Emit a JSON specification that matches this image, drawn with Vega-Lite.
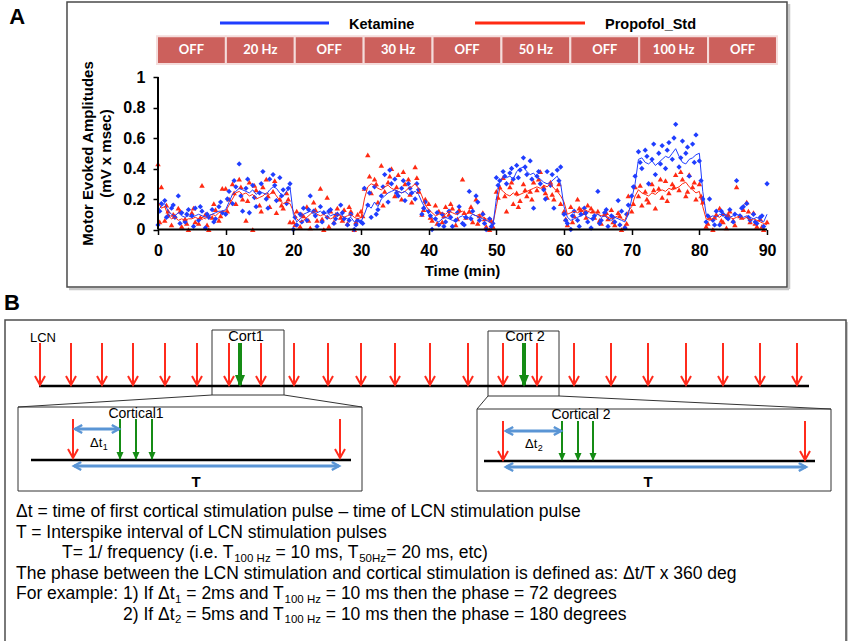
{
"$schema": "https://vega.github.io/schema/vega-lite/v6.json",
"padding": 0,
"spacing": 0,
"background": "white",
"config": {"view": {"stroke": null}, "font": "Liberation Sans"},
"datasets": {
"meas": [
{"t":0,"k":0.03,"p":0.43,"kl":0.13,"pl":0.18},{"t":0.5,"k":0.17,"p":0.28,"kl":0.15,"pl":0.14},{"t":1,"k":0.19,"p":0.06,"kl":0.17,"pl":0.15},{"t":1.5,"k":0.09,"p":0.12,"kl":0.12,"pl":0.09},{"t":2,"k":0.14,"p":0.03,"kl":0.10,"pl":0.07},{"t":2.5,"k":0.08,"p":0.09,"kl":0.09,"pl":0.08},{"t":3,"k":0.22,"p":0.14,"kl":0.11,"pl":0.06},{"t":3.5,"k":0.11,"p":0.02,"kl":0.09,"pl":0.07},{"t":4,"k":0.05,"p":0.07,"kl":0.08,"pl":0.06},{"t":4.5,"k":0.13,"p":0.0,"kl":0.09,"pl":0.07},
{"t":5,"k":0.09,"p":0.11,"kl":0.08,"pl":0.07},{"t":5.5,"k":0.14,"p":0.05,"kl":0.09,"pl":0.08},{"t":6,"k":0.06,"p":0.04,"kl":0.10,"pl":0.07},{"t":6.5,"k":0.12,"p":0.29,"kl":0.09,"pl":0.08},{"t":7,"k":0.01,"p":0.10,"kl":0.08,"pl":0.07},{"t":7.5,"k":0.08,"p":0.0,"kl":0.09,"pl":0.09},{"t":8,"k":0.13,"p":0.08,"kl":0.10,"pl":0.10},{"t":8.5,"k":0.07,"p":0.13,"kl":0.11,"pl":0.09},{"t":9,"k":0.15,"p":0.06,"kl":0.12,"pl":0.11},{"t":9.5,"k":0.11,"p":0.27,"kl":0.12,"pl":0.12},
{"t":10,"k":0.10,"p":0.27,"kl":0.13,"pl":0.12},{"t":10.5,"k":0.25,"p":0.20,"kl":0.18,"pl":0.16},{"t":11,"k":0.17,"p":0.30,"kl":0.23,"pl":0.20},{"t":11.5,"k":0.28,"p":0.17,"kl":0.25,"pl":0.24},{"t":12,"k":0.43,"p":0.33,"kl":0.27,"pl":0.25},{"t":12.5,"k":0.12,"p":0.20,"kl":0.26,"pl":0.23},{"t":13,"k":0.27,"p":0.06,"kl":0.25,"pl":0.24},{"t":13.5,"k":0.11,"p":0.31,"kl":0.24,"pl":0.22},{"t":14,"k":0.29,"p":0.0,"kl":0.26,"pl":0.23},{"t":14.5,"k":0.15,"p":0.26,"kl":0.23,"pl":0.20},
{"t":15,"k":0.24,"p":0.16,"kl":0.25,"pl":0.21},{"t":15.5,"k":0.38,"p":0.28,"kl":0.24,"pl":0.22},{"t":16,"k":0.20,"p":0.33,"kl":0.23,"pl":0.24},{"t":16.5,"k":0.33,"p":0.15,"kl":0.26,"pl":0.23},{"t":17,"k":0.36,"p":0.25,"kl":0.28,"pl":0.25},{"t":17.5,"k":0.19,"p":0.11,"kl":0.27,"pl":0.22},{"t":18,"k":0.34,"p":0.20,"kl":0.24,"pl":0.19},{"t":18.5,"k":0.26,"p":0.14,"kl":0.22,"pl":0.17},{"t":19,"k":0.17,"p":0.24,"kl":0.25,"pl":0.18},{"t":19.5,"k":0.30,"p":0.05,"kl":0.28,"pl":0.17},
{"t":20,"k":0.0,"p":0.05,"kl":0.10,"pl":0.12},{"t":20.5,"k":0.03,"p":0.12,"kl":0.05,"pl":0.07},{"t":21,"k":0.10,"p":0.02,"kl":0.07,"pl":0.05},{"t":21.5,"k":0.14,"p":0.09,"kl":0.10,"pl":0.06},{"t":22,"k":0.06,"p":0.15,"kl":0.11,"pl":0.08},{"t":22.5,"k":0.22,"p":0.01,"kl":0.12,"pl":0.10},{"t":23,"k":0.12,"p":0.18,"kl":0.10,"pl":0.12},{"t":23.5,"k":0.02,"p":0.06,"kl":0.11,"pl":0.10},{"t":24,"k":0.15,"p":0.27,"kl":0.12,"pl":0.09},{"t":24.5,"k":0.11,"p":0.0,"kl":0.10,"pl":0.10},
{"t":25,"k":0.08,"p":0.21,"kl":0.11,"pl":0.08},{"t":25.5,"k":0.13,"p":0.12,"kl":0.09,"pl":0.07},{"t":26,"k":0.04,"p":0.05,"kl":0.10,"pl":0.08},{"t":26.5,"k":0.10,"p":0.14,"kl":0.09,"pl":0.10},{"t":27,"k":0.16,"p":0.08,"kl":0.10,"pl":0.09},{"t":27.5,"k":0.07,"p":0.13,"kl":0.08,"pl":0.08},{"t":28,"k":0.03,"p":0.04,"kl":0.07,"pl":0.09},{"t":28.5,"k":0.10,"p":0.12,"kl":0.08,"pl":0.10},{"t":29,"k":0.0,"p":0.0,"kl":0.05,"pl":0.08},{"t":29.5,"k":0.06,"p":0.10,"kl":0.06,"pl":0.07},
{"t":30,"k":0.05,"p":0.12,"kl":0.05,"pl":0.08},{"t":30.5,"k":0.27,"p":0.27,"kl":0.10,"pl":0.20},{"t":31,"k":0.16,"p":0.49,"kl":0.16,"pl":0.28},{"t":31.5,"k":0.08,"p":0.24,"kl":0.14,"pl":0.30},{"t":32,"k":0.28,"p":0.33,"kl":0.18,"pl":0.29},{"t":32.5,"k":0.13,"p":0.18,"kl":0.15,"pl":0.27},{"t":33,"k":0.22,"p":0.42,"kl":0.20,"pl":0.26},{"t":33.5,"k":0.36,"p":0.25,"kl":0.22,"pl":0.28},{"t":34,"k":0.18,"p":0.31,"kl":0.24,"pl":0.29},{"t":34.5,"k":0.30,"p":0.40,"kl":0.25,"pl":0.27},
{"t":35,"k":0.33,"p":0.22,"kl":0.26,"pl":0.26},{"t":35.5,"k":0.22,"p":0.36,"kl":0.25,"pl":0.25},{"t":36,"k":0.27,"p":0.20,"kl":0.24,"pl":0.24},{"t":36.5,"k":0.19,"p":0.30,"kl":0.25,"pl":0.25},{"t":37,"k":0.30,"p":0.33,"kl":0.23,"pl":0.27},{"t":37.5,"k":0.24,"p":0.18,"kl":0.24,"pl":0.28},{"t":38,"k":0.20,"p":0.41,"kl":0.25,"pl":0.30},{"t":38.5,"k":0.26,"p":0.25,"kl":0.23,"pl":0.27},{"t":39,"k":0.10,"p":0.10,"kl":0.18,"pl":0.22},{"t":39.5,"k":0.18,"p":0.20,"kl":0.14,"pl":0.16},
{"t":40,"k":0.12,"p":0.17,"kl":0.10,"pl":0.13},{"t":40.5,"k":0.0,"p":0.06,"kl":0.08,"pl":0.11},{"t":41,"k":0.07,"p":0.16,"kl":0.06,"pl":0.09},{"t":41.5,"k":0.03,"p":0.12,"kl":0.05,"pl":0.10},{"t":42,"k":0.10,"p":0.05,"kl":0.07,"pl":0.11},{"t":42.5,"k":0.05,"p":0.15,"kl":0.08,"pl":0.10},{"t":43,"k":0.12,"p":0.10,"kl":0.07,"pl":0.12},{"t":43.5,"k":0.02,"p":0.14,"kl":0.06,"pl":0.11},{"t":44,"k":0.06,"p":0.03,"kl":0.05,"pl":0.10},{"t":44.5,"k":0.15,"p":0.13,"kl":0.08,"pl":0.11},
{"t":45,"k":0.04,"p":0.33,"kl":0.09,"pl":0.12},{"t":45.5,"k":0.08,"p":0.08,"kl":0.07,"pl":0.10},{"t":46,"k":0.25,"p":0.12,"kl":0.08,"pl":0.11},{"t":46.5,"k":0.12,"p":0.05,"kl":0.10,"pl":0.10},{"t":47,"k":0.22,"p":0.20,"kl":0.09,"pl":0.09},{"t":47.5,"k":0.06,"p":0.09,"kl":0.08,"pl":0.10},{"t":48,"k":0.10,"p":0.11,"kl":0.07,"pl":0.08},{"t":48.5,"k":0.0,"p":0.02,"kl":0.06,"pl":0.07},{"t":49,"k":0.07,"p":0.0,"kl":0.05,"pl":0.05},{"t":49.5,"k":0.04,"p":0.02,"kl":0.03,"pl":0.04},
{"t":50,"k":0.34,"p":0.25,"kl":0.20,"pl":0.15},{"t":50.5,"k":0.32,"p":0.28,"kl":0.32,"pl":0.27},{"t":51,"k":0.38,"p":0.34,"kl":0.34,"pl":0.25},{"t":51.5,"k":0.30,"p":0.12,"kl":0.34,"pl":0.23},{"t":52,"k":0.37,"p":0.28,"kl":0.35,"pl":0.22},{"t":52.5,"k":0.33,"p":0.17,"kl":0.33,"pl":0.24},{"t":53,"k":0.42,"p":0.24,"kl":0.38,"pl":0.22},{"t":53.5,"k":0.39,"p":0.19,"kl":0.40,"pl":0.23},{"t":54,"k":0.47,"p":0.30,"kl":0.41,"pl":0.24},{"t":54.5,"k":0.36,"p":0.22,"kl":0.38,"pl":0.25},
{"t":55,"k":0.45,"p":0.25,"kl":0.36,"pl":0.26},{"t":55.5,"k":0.14,"p":0.31,"kl":0.37,"pl":0.27},{"t":56,"k":0.35,"p":0.26,"kl":0.34,"pl":0.28},{"t":56.5,"k":0.30,"p":0.38,"kl":0.33,"pl":0.27},{"t":57,"k":0.26,"p":0.28,"kl":0.31,"pl":0.29},{"t":57.5,"k":0.38,"p":0.21,"kl":0.30,"pl":0.28},{"t":58,"k":0.29,"p":0.31,"kl":0.31,"pl":0.30},{"t":58.5,"k":0.14,"p":0.20,"kl":0.33,"pl":0.27},{"t":59,"k":0.39,"p":0.26,"kl":0.35,"pl":0.25},{"t":59.5,"k":0.41,"p":0.17,"kl":0.30,"pl":0.22},
{"t":60,"k":0.10,"p":0.12,"kl":0.15,"pl":0.18},{"t":60.5,"k":0.04,"p":0.03,"kl":0.08,"pl":0.10},{"t":61,"k":0.0,"p":0.15,"kl":0.06,"pl":0.11},{"t":61.5,"k":0.12,"p":0.09,"kl":0.07,"pl":0.12},{"t":62,"k":0.06,"p":0.20,"kl":0.08,"pl":0.11},{"t":62.5,"k":0.10,"p":0.13,"kl":0.09,"pl":0.12},{"t":63,"k":0.14,"p":0.11,"kl":0.10,"pl":0.13},{"t":63.5,"k":0.05,"p":0.16,"kl":0.08,"pl":0.12},{"t":64,"k":0.01,"p":0.14,"kl":0.07,"pl":0.11},{"t":64.5,"k":0.09,"p":0.08,"kl":0.09,"pl":0.12},
{"t":65,"k":0.25,"p":0.12,"kl":0.10,"pl":0.10},{"t":65.5,"k":0.06,"p":0.04,"kl":0.08,"pl":0.09},{"t":66,"k":0.11,"p":0.10,"kl":0.09,"pl":0.10},{"t":66.5,"k":0.02,"p":0.07,"kl":0.07,"pl":0.08},{"t":67,"k":0.09,"p":0.13,"kl":0.06,"pl":0.07},{"t":67.5,"k":0.05,"p":0.03,"kl":0.08,"pl":0.08},{"t":68,"k":0.19,"p":0.11,"kl":0.07,"pl":0.09},{"t":68.5,"k":0.12,"p":0.0,"kl":0.06,"pl":0.07},{"t":69,"k":0.01,"p":0.02,"kl":0.05,"pl":0.06},{"t":69.5,"k":0.16,"p":0.22,"kl":0.10,"pl":0.12},
{"t":70,"k":0.22,"p":0.12,"kl":0.20,"pl":0.15},{"t":70.5,"k":0.35,"p":0.28,"kl":0.30,"pl":0.22},{"t":71,"k":0.51,"p":0.22,"kl":0.46,"pl":0.26},{"t":71.5,"k":0.40,"p":0.16,"kl":0.47,"pl":0.24},{"t":72,"k":0.52,"p":0.25,"kl":0.44,"pl":0.23},{"t":72.5,"k":0.30,"p":0.18,"kl":0.43,"pl":0.22},{"t":73,"k":0.46,"p":0.30,"kl":0.45,"pl":0.24},{"t":73.5,"k":0.36,"p":0.14,"kl":0.42,"pl":0.23},{"t":74,"k":0.50,"p":0.27,"kl":0.44,"pl":0.25},{"t":74.5,"k":0.55,"p":0.21,"kl":0.46,"pl":0.26},
{"t":75,"k":0.40,"p":0.32,"kl":0.48,"pl":0.25},{"t":75.5,"k":0.57,"p":0.24,"kl":0.47,"pl":0.27},{"t":76,"k":0.46,"p":0.30,"kl":0.50,"pl":0.26},{"t":76.5,"k":0.69,"p":0.36,"kl":0.53,"pl":0.27},{"t":77,"k":0.41,"p":0.26,"kl":0.48,"pl":0.28},{"t":77.5,"k":0.58,"p":0.33,"kl":0.44,"pl":0.30},{"t":78,"k":0.50,"p":0.22,"kl":0.43,"pl":0.31},{"t":78.5,"k":0.35,"p":0.36,"kl":0.46,"pl":0.28},{"t":79,"k":0.56,"p":0.28,"kl":0.47,"pl":0.26},{"t":79.5,"k":0.62,"p":0.20,"kl":0.49,"pl":0.24},
{"t":80,"k":0.45,"p":0.30,"kl":0.50,"pl":0.25},{"t":80.5,"k":0.20,"p":0.18,"kl":0.25,"pl":0.15},{"t":81,"k":0.05,"p":0.02,"kl":0.10,"pl":0.07},{"t":81.5,"k":0.20,"p":0.08,"kl":0.08,"pl":0.06},{"t":82,"k":0.06,"p":0.0,"kl":0.09,"pl":0.07},{"t":82.5,"k":0.12,"p":0.10,"kl":0.08,"pl":0.09},{"t":83,"k":0.03,"p":0.14,"kl":0.10,"pl":0.08},{"t":83.5,"k":0.10,"p":0.05,"kl":0.09,"pl":0.10},{"t":84,"k":0.08,"p":0.01,"kl":0.10,"pl":0.09},{"t":84.5,"k":0.13,"p":0.12,"kl":0.08,"pl":0.08},
{"t":85,"k":0.05,"p":0.06,"kl":0.09,"pl":0.07},{"t":85.5,"k":0.32,"p":0.28,"kl":0.10,"pl":0.08},{"t":86,"k":0.09,"p":0.09,"kl":0.09,"pl":0.09},{"t":86.5,"k":0.15,"p":0.13,"kl":0.08,"pl":0.07},{"t":87,"k":0.17,"p":0.18,"kl":0.09,"pl":0.08},{"t":87.5,"k":0.06,"p":0.05,"kl":0.08,"pl":0.06},{"t":88,"k":0.10,"p":0.11,"kl":0.07,"pl":0.07},{"t":88.5,"k":0.04,"p":0.02,"kl":0.08,"pl":0.06},{"t":89,"k":0.08,"p":0.07,"kl":0.06,"pl":0.05},{"t":89.5,"k":0.02,"p":0.0,"kl":0.05,"pl":0.04},
{"t":90,"k":0.30,"p":0.05,"kl":0.10,"pl":0.03}
],
"extra": [
{"t":0.25,"k":0.12,"p":0.05},{"t":1.25,"k":0.08,"p":0.16},{"t":2.25,"k":0.16,"p":0.10},{"t":3.25,"k":0.04,"p":0.12},{"t":4.25,"k":0.10,"p":0.04},{"t":5.25,"k":0.02,"p":0.14},{"t":6.25,"k":0.15,"p":0.08},{"t":7.25,"k":0.10,"p":0.03},{"t":8.25,"k":0.05,"p":0.17},{"t":9.25,"k":0.18,"p":0.09},
{"t":10.25,"k":0.20,"p":0.12},{"t":11.25,"k":0.32,"p":0.24},{"t":12.25,"k":0.22,"p":0.28},{"t":13.25,"k":0.33,"p":0.19},{"t":14.25,"k":0.21,"p":0.29},{"t":15.25,"k":0.30,"p":0.12},{"t":16.25,"k":0.14,"p":0.22},{"t":17.25,"k":0.29,"p":0.32},{"t":18.25,"k":0.22,"p":0.16},{"t":19.25,"k":0.27,"p":0.20},
{"t":20.25,"k":0.08,"p":0.03},{"t":21.25,"k":0.05,"p":0.10},{"t":22.25,"k":0.13,"p":0.06},{"t":23.25,"k":0.09,"p":0.13},{"t":24.25,"k":0.05,"p":0.07},{"t":25.25,"k":0.12,"p":0.02},{"t":26.25,"k":0.07,"p":0.10},{"t":27.25,"k":0.11,"p":0.06},{"t":28.25,"k":0.06,"p":0.15},{"t":29.25,"k":0.03,"p":0.05},
{"t":30.25,"k":0.04,"p":0.09},{"t":31.25,"k":0.24,"p":0.35},{"t":32.25,"k":0.10,"p":0.30},{"t":33.25,"k":0.28,"p":0.16},{"t":34.25,"k":0.39,"p":0.35},{"t":35.25,"k":0.24,"p":0.28},{"t":36.25,"k":0.32,"p":0.38},{"t":37.25,"k":0.27,"p":0.23},{"t":38.25,"k":0.30,"p":0.34},{"t":39.25,"k":0.14,"p":0.13},
{"t":40.25,"k":0.09,"p":0.08},{"t":41.25,"k":0.11,"p":0.04},{"t":42.25,"k":0.02,"p":0.09},{"t":43.25,"k":0.08,"p":0.17},{"t":44.25,"k":0.11,"p":0.07},{"t":45.25,"k":0.03,"p":0.11},{"t":46.25,"k":0.07,"p":0.15},{"t":47.25,"k":0.18,"p":0.04},{"t":48.25,"k":0.04,"p":0.07},{"t":49.25,"k":0.02,"p":0.06},
{"t":50.25,"k":0.29,"p":0.21},{"t":51.25,"k":0.35,"p":0.22},{"t":52.25,"k":0.40,"p":0.31},{"t":53.25,"k":0.34,"p":0.15},{"t":54.25,"k":0.41,"p":0.26},{"t":55.25,"k":0.33,"p":0.20},{"t":56.25,"k":0.38,"p":0.33},{"t":57.25,"k":0.20,"p":0.24},{"t":58.25,"k":0.36,"p":0.23},{"t":59.25,"k":0.32,"p":0.30},
{"t":60.25,"k":0.06,"p":0.07},{"t":61.25,"k":0.09,"p":0.05},{"t":62.25,"k":0.02,"p":0.14},{"t":63.25,"k":0.11,"p":0.08},{"t":64.25,"k":0.07,"p":0.12},{"t":65.25,"k":0.04,"p":0.06},{"t":66.25,"k":0.13,"p":0.11},{"t":67.25,"k":0.08,"p":0.05},{"t":68.25,"k":0.03,"p":0.09},{"t":69.25,"k":0.10,"p":0.04},
{"t":70.25,"k":0.28,"p":0.17},{"t":71.25,"k":0.44,"p":0.29},{"t":72.25,"k":0.48,"p":0.20},{"t":73.25,"k":0.56,"p":0.26},{"t":74.25,"k":0.43,"p":0.33},{"t":75.25,"k":0.52,"p":0.19},{"t":76.25,"k":0.60,"p":0.28},{"t":77.25,"k":0.47,"p":0.38},{"t":78.25,"k":0.54,"p":0.25},{"t":79.25,"k":0.44,"p":0.31},
{"t":80.25,"k":0.32,"p":0.22},{"t":81.25,"k":0.09,"p":0.04},{"t":82.25,"k":0.03,"p":0.08},{"t":83.25,"k":0.12,"p":0.06},{"t":84.25,"k":0.07,"p":0.10},{"t":85.25,"k":0.10,"p":0.03},{"t":86.25,"k":0.14,"p":0.08},{"t":87.25,"k":0.08,"p":0.12},{"t":88.25,"k":0.05,"p":0.04},{"t":89.25,"k":0.09,"p":0.02}
],
"bars": [
{"start":-0.15,"end":10.03,"mid":4.94,"label":"OFF"},{"start":10.03,"end":20.21,"mid":15.12,"label":"20 Hz"},{"start":20.21,"end":30.39,"mid":25.3,"label":"OFF"},{"start":30.39,"end":40.57,"mid":35.48,"label":"30 Hz"},{"start":40.57,"end":50.75,"mid":45.66,"label":"OFF"},{"start":50.75,"end":60.93,"mid":55.84,"label":"50 Hz"},{"start":60.93,"end":71.11,"mid":66.02,"label":"OFF"},{"start":71.11,"end":81.29,"mid":76.2,"label":"100 Hz"},{"start":81.29,"end":91.47,"mid":86.38,"label":"OFF"}
],
"pulses": [
{"x":40,"y":335,"y2":377,"k":"lcn"},{"x":71,"y":335,"y2":377,"k":"lcn"},{"x":102,"y":335,"y2":377,"k":"lcn"},{"x":133,"y":335,"y2":377,"k":"lcn"},{"x":165,"y":335,"y2":377,"k":"lcn"},{"x":197,"y":335,"y2":377,"k":"lcn"},{"x":229,"y":335,"y2":377,"k":"lcn"},{"x":261,"y":335,"y2":377,"k":"lcn"},{"x":294,"y":335,"y2":377,"k":"lcn"},{"x":328,"y":335,"y2":377,"k":"lcn"},{"x":361,"y":335,"y2":377,"k":"lcn"},{"x":395,"y":335,"y2":377,"k":"lcn"},{"x":430,"y":335,"y2":377,"k":"lcn"},{"x":468,"y":335,"y2":377,"k":"lcn"},{"x":503,"y":335,"y2":377,"k":"lcn"},{"x":537,"y":335,"y2":377,"k":"lcn"},{"x":574,"y":335,"y2":377,"k":"lcn"},{"x":611,"y":335,"y2":377,"k":"lcn"},{"x":648,"y":335,"y2":377,"k":"lcn"},{"x":686,"y":335,"y2":377,"k":"lcn"},{"x":723,"y":335,"y2":377,"k":"lcn"},{"x":760,"y":335,"y2":377,"k":"lcn"},{"x":797,"y":335,"y2":377,"k":"lcn"},
{"x":73,"y":411,"y2":450,"k":"lcn"},{"x":340,"y":411,"y2":450,"k":"lcn"},{"x":503,"y":413,"y2":452,"k":"lcn"},{"x":805,"y":413,"y2":452,"k":"lcn"},
{"x":240,"y":335,"y2":377,"k":"cort"},{"x":524,"y":335,"y2":377,"k":"cort"},
{"x":120,"y":411,"y2":451,"k":"cin"},{"x":136,"y":411,"y2":451,"k":"cin"},{"x":152,"y":411,"y2":451,"k":"cin"},{"x":562,"y":413,"y2":452,"k":"cin"},{"x":578,"y":413,"y2":452,"k":"cin"},{"x":593,"y":413,"y2":452,"k":"cin"}
],
"intervals": [
{"x":75,"x2":119,"y":421},{"x":74,"x2":339,"y":458},{"x":506,"x2":561,"y":423},{"x":506,"x2":806,"y":459}
],
"para": [
{"x":16,"y":509,"s":"Δt = time of first cortical stimulation pulse –  time of LCN stimulation pulse"},
{"x":16,"y":529.5,"s":"T = Interspike interval of LCN stimulation pulses"},
{"x":62,"y":550,"s":"T= 1/ frequency (i.e. T"},
{"x":275.5,"y":550,"s":"= 10 ms, T"},
{"x":386.3,"y":550,"s":"= 20 ms, etc)"},
{"x":16,"y":570.5,"s":"The phase between the LCN stimulation and cortical stimulation is defined as: Δt/T x 360 deg"},
{"x":16,"y":591,"s":"For example: 1) If Δt"},
{"x":186.3,"y":591,"s":"= 2ms and T"},
{"x":325.8,"y":591,"s":"= 10 ms then the phase = 72 degrees"},
{"x":123,"y":611.5,"s":"2) If Δt"},
{"x":186.3,"y":611.5,"s":"= 5ms and T"},
{"x":325.8,"y":611.5,"s":"= 10 ms then the phase = 180 degrees"}
],
"parasub": [
{"x":234.2,"y":553.5,"s":"100 Hz"},{"x":359.2,"y":553.5,"s":"50Hz"},
{"x":175,"y":594.5,"s":"1"},{"x":284.5,"y":594.5,"s":"100 Hz"},
{"x":175,"y":615,"s":"2"},{"x":284.5,"y":615,"s":"100 Hz"}
]
},
"vconcat": [
{
"width": 850, "height": 292,
"layer": [
{"data":{"name":"meas"},"mark":{"type":"point","shape":"triangle-up","filled":true,"size":30,"color":"#ff2a12","opacity":1,"strokeWidth":0},
 "encoding":{
  "x":{"field":"t","type":"quantitative","scale":{"domain":[-23.35,102.26],"nice":false,"zero":false},
   "axis":{"orient":"bottom","offset":-62.5,"values":[0,10,20,30,40,50,60,70,80,90],"format":"d","domain":false,"grid":false,"ticks":true,"tickSize":5,"tickWidth":1.5,"tickColor":"black","labels":true,"labelFont":"Liberation Sans","labelFontWeight":"bold","labelFontSize":16,"labelColor":"black","labelPadding":8,"labelFlush":false,"labelOverlap":false,"title":"Time (min)","titleFont":"Liberation Sans","titleFontSize":15,"titleFontWeight":"bold","titleColor":"black","titlePadding":5,"titleX":462,"zindex":2}},
  "y":{"field":"p","type":"quantitative","scale":{"domain":[-0.4098,1.505],"nice":false,"zero":false},
   "axis":{"orient":"left","offset":-158,"values":[0,0.2,0.4,0.6,0.8,1],"format":"~g","domain":false,"grid":false,"ticks":true,"tickSize":5,"tickWidth":1.5,"tickColor":"black","labels":true,"labelFont":"Liberation Sans","labelFontWeight":"bold","labelFontSize":16,"labelColor":"black","labelPadding":8,"labelFlush":false,"labelOverlap":false,"title":["Motor Evoked Amplitudes","(mV x msec)"],"titleFont":"Liberation Sans","titleFontSize":15,"titleFontWeight":"bold","titleColor":"black","titlePadding":9,"titleY":153,"titleLineHeight":18,"zindex":2}}}},
{"data":{"name":"extra"},"mark":{"type":"point","shape":"triangle-up","filled":true,"size":30,"color":"#ff2a12","opacity":1,"strokeWidth":0},
 "encoding":{"x":{"field":"t","type":"quantitative"},"y":{"field":"p","type":"quantitative"}}},
{"data":{"name":"meas"},"mark":{"type":"point","shape":"diamond","filled":true,"size":28,"color":"#1f3dff","opacity":1,"strokeWidth":0},
 "encoding":{"x":{"field":"t","type":"quantitative"},"y":{"field":"k","type":"quantitative"}}},
{"data":{"name":"extra"},"mark":{"type":"point","shape":"diamond","filled":true,"size":28,"color":"#1f3dff","opacity":1,"strokeWidth":0},
 "encoding":{"x":{"field":"t","type":"quantitative"},"y":{"field":"k","type":"quantitative"}}},
{"data":{"name":"meas"},"mark":{"type":"line","color":"#ff2a12","strokeWidth":1},
 "encoding":{"x":{"field":"t","type":"quantitative"},"y":{"field":"pl","type":"quantitative"}}},
{"data":{"name":"meas"},"mark":{"type":"line","color":"#1f3dff","strokeWidth":1},
 "encoding":{"x":{"field":"t","type":"quantitative"},"y":{"field":"kl","type":"quantitative"}}},
{"data":{"values":[{"x":93.25,"x2":93.25,"y":1.479,"y2":-0.39},{"x":-13.15,"x2":93.25,"y":-0.39,"y2":-0.39}]},"mark":{"type":"rule","color":"#c8c8c8","strokeWidth":2.5},
 "encoding":{"x":{"field":"x","type":"quantitative"},"x2":{"field":"x2"},"y":{"field":"y","type":"quantitative"},"y2":{"field":"y2"}}},
{"data":{"values":[{"x":-13.45,"x2":92.95,"y":1.492,"y2":-0.377}]},"mark":{"type":"rect","fill":"white","fillOpacity":0,"stroke":"#4a4a4a","strokeWidth":1.5},
 "encoding":{"x":{"field":"x","type":"quantitative"},"x2":{"field":"x2"},"y":{"field":"y","type":"quantitative"},"y2":{"field":"y2"}}},
{"data":{"values":[{"x":0,"x2":90,"y":0,"y2":0},{"x":0,"x2":0,"y":0,"y2":1}]},"mark":{"type":"rule","color":"black","strokeWidth":2},
 "encoding":{"x":{"field":"x","type":"quantitative"},"x2":{"field":"x2"},"y":{"field":"y","type":"quantitative"},"y2":{"field":"y2"}}},
{"data":{"name":"bars"},"mark":{"type":"rect","fill":"#cc605c","stroke":"#f4dcdb","strokeWidth":2},
 "encoding":{"x":{"field":"start","type":"quantitative"},"x2":{"field":"end"},"y":{"datum":1.268,"type":"quantitative"},"y2":{"datum":1.085}}},
{"data":{"name":"bars"},"mark":{"type":"text","font":"Lato","fontWeight":"bold","fontSize":13,"color":"white","align":"center","baseline":"middle"},
 "encoding":{"x":{"field":"mid","type":"quantitative"},"y":{"datum":1.177,"type":"quantitative"},"text":{"field":"label"}}},
{"data":{"values":[{"s":"Ketamine","x":9.16,"x2":25.27},{"s":"Propofol_Std","x":46.85,"x2":63.1}]},"mark":{"type":"rule","strokeWidth":3},
 "encoding":{"x":{"field":"x","type":"quantitative"},"x2":{"field":"x2"},"y":{"datum":1.354,"type":"quantitative"},
  "color":{"field":"s","type":"nominal","scale":{"domain":["Ketamine","Propofol_Std"],"range":["#1f3dff","#ff2a12"]},"legend":null}}},
{"data":{"values":[{"s":"Ketamine","lx":28.23},{"s":"Propofol_Std","lx":66.06}]},"mark":{"type":"text","font":"Liberation Sans","fontWeight":"bold","fontSize":14.5,"color":"black","align":"left","baseline":"middle"},
 "encoding":{"x":{"field":"lx","type":"quantitative"},"y":{"datum":1.344,"type":"quantitative"},"text":{"field":"s"}}},
{"data":{"values":[{"s":"A","x":-20.8,"y":1.393}]},"mark":{"type":"text","font":"Liberation Sans","fontWeight":"bold","fontSize":22,"color":"black","align":"center","baseline":"middle"},
 "encoding":{"x":{"field":"x","type":"quantitative"},"y":{"field":"y","type":"quantitative"},"text":{"field":"s"}}}
]
},
{
"width": 850, "height": 349,
"encoding": {
 "x":{"field":"x","type":"quantitative","scale":{"domain":[0,850],"nice":false,"zero":false},"axis":null},
 "y":{"field":"y","type":"quantitative","scale":{"domain":[292,641],"nice":false,"zero":false,"reverse":true},"axis":null}
},
"layer": [
{"data":{"values":[{"x":7,"x2":848,"y":314,"y2":637}]},"mark":{"type":"rect","fill":"#c8c8c8"},"encoding":{"x2":{"field":"x2"},"y2":{"field":"y2"}}},
{"data":{"values":[{"x":5,"x2":846,"y":312,"y2":635}]},"mark":{"type":"rect","fill":"white","stroke":"#4d4d4d","strokeWidth":1.5},"encoding":{"x2":{"field":"x2"},"y2":{"field":"y2"}}},
{"data":{"values":[{"x":212,"x2":284,"y":322,"y2":387},{"x":488,"x2":559,"y":323,"y2":388},{"x":18,"x2":362,"y":399,"y2":483},{"x":477,"x2":831,"y":401,"y2":483}]},"mark":{"type":"rect","fill":"white","fillOpacity":0,"stroke":"#333333","strokeWidth":1},"encoding":{"x2":{"field":"x2"},"y2":{"field":"y2"}}},
{"data":{"values":[{"x":212,"y":387,"x2":18,"y2":399},{"x":284,"y":387,"x2":362,"y2":399},{"x":488,"y":388,"x2":477,"y2":401},{"x":559,"y":388,"x2":831,"y2":401}]},"mark":{"type":"rule","color":"#333333","strokeWidth":1},"encoding":{"x2":{"field":"x2"},"y2":{"field":"y2"}}},
{"data":{"values":[{"x":39,"x2":809,"y":378},{"x":31,"x2":351,"y":452},{"x":484,"x2":815,"y":453}]},"mark":{"type":"rule","color":"black","strokeWidth":2.5},"encoding":{"x2":{"field":"x2"}}},
{"data":{"name":"pulses"},"transform":[{"filter":"datum.k == 'lcn'"}],"mark":{"type":"rule","color":"#ff2b1c","strokeWidth":2},"encoding":{"y2":{"field":"y2"}}},
{"data":{"name":"pulses"},"transform":[{"filter":"datum.k == 'lcn'"}],"mark":{"type":"point","shape":"M-1,-1.8L0,0L1,-1.8","filled":false,"size":100,"stroke":"#ff2b1c","strokeWidth":2,"opacity":1},
 "encoding":{"y":{"field":"y2","type":"quantitative","scale":{"domain":[292,641],"nice":false,"zero":false,"reverse":true},"axis":null}}},
{"data":{"name":"pulses"},"transform":[{"filter":"datum.k == 'cort'"}],"mark":{"type":"rule","color":"#158c15","strokeWidth":4},"encoding":{"y2":{"field":"y2"}}},
{"data":{"name":"pulses"},"transform":[{"filter":"datum.k == 'cort'"}],"mark":{"type":"point","shape":"M-1,-2L0,0.4L1,-2Z","filled":true,"size":100,"color":"#158c15","strokeWidth":0,"opacity":1},
 "encoding":{"y":{"field":"y2","type":"quantitative","scale":{"domain":[292,641],"nice":false,"zero":false,"reverse":true},"axis":null}}},
{"data":{"name":"pulses"},"transform":[{"filter":"datum.k == 'cin'"}],"mark":{"type":"rule","color":"#158c15","strokeWidth":2},"encoding":{"y2":{"field":"y2"}}},
{"data":{"name":"pulses"},"transform":[{"filter":"datum.k == 'cin'"}],"mark":{"type":"point","shape":"M-1,-2L0,0.3L1,-2Z","filled":true,"size":49,"color":"#158c15","strokeWidth":0,"opacity":1},
 "encoding":{"y":{"field":"y2","type":"quantitative","scale":{"domain":[292,641],"nice":false,"zero":false,"reverse":true},"axis":null}}},
{"data":{"name":"intervals"},"mark":{"type":"rule","color":"#5a95d5","strokeWidth":3},"encoding":{"x2":{"field":"x2"}}},
{"data":{"name":"intervals"},"mark":{"type":"point","shape":"M1.8,-1L0,0L1.8,1","filled":false,"size":64,"stroke":"#5a95d5","strokeWidth":2.5,"opacity":1},"encoding":{}},
{"data":{"name":"intervals"},"mark":{"type":"point","shape":"M-1.8,-1L0,0L-1.8,1","filled":false,"size":64,"stroke":"#5a95d5","strokeWidth":2.5,"opacity":1},
 "encoding":{"x":{"field":"x2","type":"quantitative","scale":{"domain":[0,850],"nice":false,"zero":false},"axis":null}}},
{"data":{"values":[{"x":246,"y":329,"s":"Cort1"},{"x":525,"y":329,"s":"Cort 2"}]},
 "mark":{"type":"text","font":"Liberation Sans","fontSize":14.5,"color":"black","align":"center","baseline":"middle"},"encoding":{"text":{"field":"s"}}},
{"data":{"values":[{"x":136,"y":406,"s":"Cortical1"},{"x":581,"y":407,"s":"Cortical 2"}]},
 "mark":{"type":"text","font":"Liberation Sans","fontSize":14,"color":"black","align":"center","baseline":"middle"},"encoding":{"text":{"field":"s"}}},
{"data":{"values":[{"x":30,"y":330,"s":"LCN"},{"x":90,"y":435,"s":"Δt"},{"x":525,"y":436,"s":"Δt"}]},
 "mark":{"type":"text","font":"Liberation Sans","fontSize":13,"color":"black","align":"left","baseline":"middle"},"encoding":{"text":{"field":"s"}}},
{"data":{"values":[{"x":102.8,"y":439,"s":"1"},{"x":537.8,"y":440,"s":"2"}]},
 "mark":{"type":"text","font":"Liberation Sans","fontSize":9,"color":"black","align":"left","baseline":"middle"},"encoding":{"text":{"field":"s"}}},
{"data":{"values":[{"x":196,"y":474,"s":"T"},{"x":648,"y":474,"s":"T"}]},
 "mark":{"type":"text","font":"Liberation Sans","fontSize":15,"fontWeight":"bold","color":"black","align":"center","baseline":"middle"},"encoding":{"text":{"field":"s"}}},
{"data":{"values":[{"x":12,"y":295,"s":"B"}]},
 "mark":{"type":"text","font":"Liberation Sans","fontSize":22,"fontWeight":"bold","color":"black","align":"center","baseline":"middle"},"encoding":{"text":{"field":"s"}}},
{"data":{"name":"para"},"mark":{"type":"text","font":"Liberation Sans","fontSize":17.5,"color":"black","align":"left","baseline":"alphabetic"},"encoding":{"text":{"field":"s"}}},
{"data":{"name":"parasub"},"mark":{"type":"text","font":"Liberation Sans","fontSize":11.5,"color":"black","align":"left","baseline":"alphabetic"},"encoding":{"text":{"field":"s"}}}
]
}
]
}
